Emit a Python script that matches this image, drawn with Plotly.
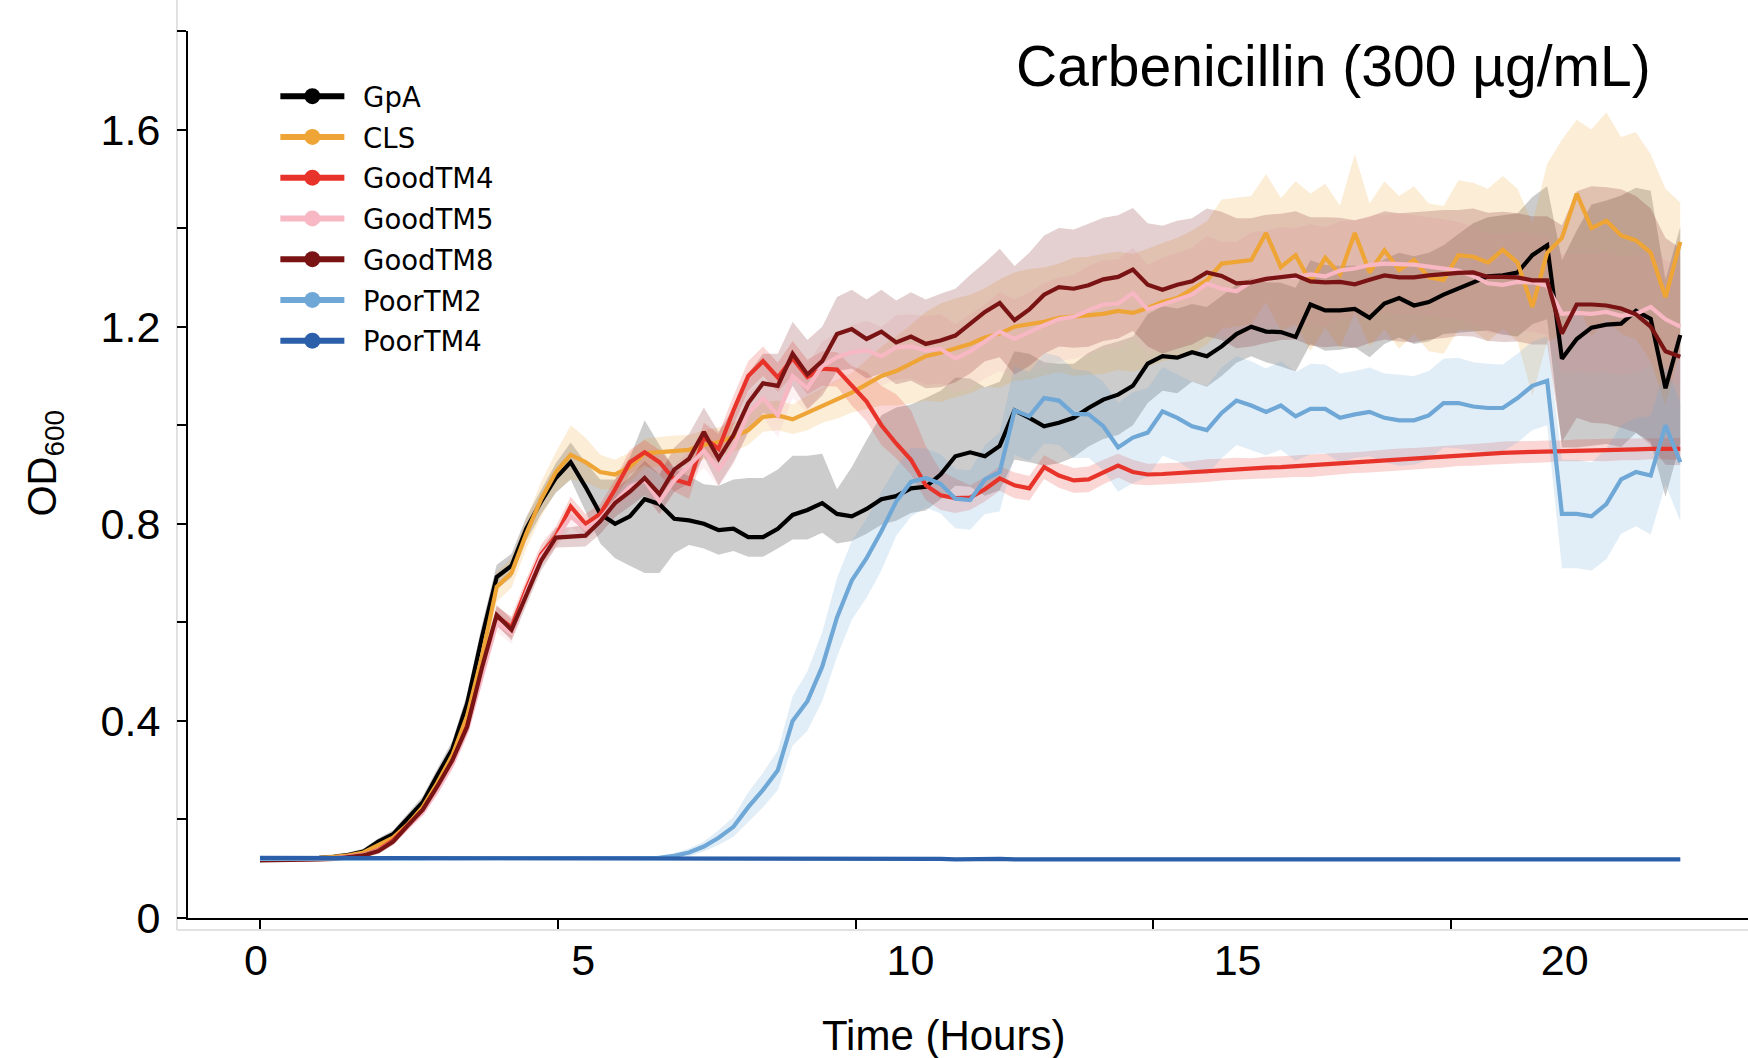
import numpy as np
import plotly.graph_objects as go

# sampling times (hours)
TIME = np.linspace(0, 23.85, 97)

SERIES = ["GpA", "CLS", "GoodTM4", "GoodTM5", "GoodTM8", "PoorTM2", "PoorTM4"]
COLORS = ["#000000", "#EFA535", "#E8332A", "#F7B7C3", "#7A1414", "#6FA8D6", "#2B5FA9"]

XTICKS = [0, 5, 10, 15, 20]
XTICK_LABELS = ["0", "5", "10", "15", "20"]
YTICKS = [0, 0.2, 0.4, 0.6, 0.8, 1.0, 1.2, 1.4, 1.6, 1.8]
YTICK_LABELS = ["0", "", "0.4", "", "0.8", "", "1.2", "", "1.6", ""]

# ---- mean OD600 ----
GPA = [0.120, 0.120, 0.121, 0.121, 0.122, 0.124, 0.128, 0.135, 0.155, 0.170,
       0.203, 0.235, 0.290, 0.343, 0.435, 0.570, 0.692, 0.715, 0.790, 0.845,
       0.893, 0.925, 0.875, 0.820, 0.800, 0.815, 0.850, 0.840, 0.810, 0.807,
       0.800, 0.787, 0.790, 0.773, 0.773, 0.790, 0.818, 0.828, 0.842, 0.820,
       0.815, 0.830, 0.850, 0.856, 0.872, 0.875, 0.900, 0.937, 0.945, 0.937,
       0.958, 1.030, 1.015, 0.998, 1.005, 1.015, 1.035, 1.052, 1.062, 1.080,
       1.125, 1.140, 1.137, 1.148, 1.140, 1.160, 1.185, 1.200, 1.190, 1.189,
       1.179, 1.245, 1.233, 1.233, 1.236, 1.218, 1.247, 1.258, 1.243, 1.250,
       1.265, 1.278, 1.290, 1.302, 1.304, 1.310, 1.345, 1.365, 1.135, 1.175,
       1.198, 1.204, 1.206, 1.232, 1.216, 1.075, 1.183]
CLS = [0.120, 0.120, 0.121, 0.121, 0.122, 0.124, 0.127, 0.133, 0.148, 0.163,
       0.190, 0.225, 0.275, 0.330, 0.410, 0.530, 0.672, 0.700, 0.780, 0.850,
       0.905, 0.940, 0.925, 0.905, 0.900, 0.915, 0.943, 0.946, 0.949, 0.950,
       0.960, 0.966, 0.976, 0.990, 1.017, 1.020, 1.012, 1.025, 1.040, 1.053,
       1.066, 1.083, 1.100, 1.110, 1.124, 1.140, 1.147, 1.157, 1.165, 1.178,
       1.186, 1.200, 1.205, 1.210, 1.218, 1.220, 1.222, 1.226, 1.232, 1.228,
       1.238, 1.250, 1.258, 1.275, 1.294, 1.328, 1.331, 1.335, 1.390, 1.321,
       1.345, 1.290, 1.340, 1.306, 1.390, 1.310, 1.355, 1.315, 1.335, 1.300,
       1.295, 1.345, 1.342, 1.330, 1.356, 1.330, 1.240, 1.350, 1.380, 1.470,
       1.400, 1.415, 1.385, 1.375, 1.350, 1.260, 1.372]
GOODTM4 = [0.118, 0.118, 0.119, 0.119, 0.120, 0.121, 0.124, 0.128, 0.138, 0.158,
           0.188, 0.218, 0.265, 0.318, 0.390, 0.505, 0.612, 0.590, 0.668, 0.738,
           0.775, 0.835, 0.800, 0.820, 0.870, 0.925, 0.945, 0.925, 0.890, 0.881,
           0.975, 0.952, 1.030, 1.100, 1.130, 1.097, 1.136, 1.098, 1.115, 1.113,
           1.080, 1.048, 1.000, 0.963, 0.930, 0.878, 0.858, 0.852, 0.853, 0.870,
           0.892, 0.878, 0.872, 0.915, 0.898, 0.888, 0.890, 0.905, 0.918, 0.905,
           0.900, 0.901, 0.903, 0.905, 0.908, 0.910, 0.912, 0.912, 0.914, 0.915,
           0.917, 0.918, 0.920, 0.922, 0.924, 0.926, 0.928, 0.930, 0.932, 0.934,
           0.936, 0.938, 0.940, 0.942, 0.944, 0.945, 0.946, 0.947, 0.948, 0.949,
           0.950, 0.950, 0.951, 0.951, 0.952, 0.952, 0.952]
GOODTM5 = [0.118, 0.118, 0.119, 0.119, 0.120, 0.121, 0.124, 0.128, 0.137, 0.155,
           0.185, 0.215, 0.260, 0.312, 0.382, 0.495, 0.600, 0.578, 0.660, 0.733,
           0.770, 0.815, 0.790, 0.810, 0.845, 0.875, 0.888, 0.845, 0.888, 0.918,
           0.948, 0.910, 0.955, 1.025, 1.055, 1.020, 1.100, 1.075, 1.120, 1.138,
           1.148, 1.152, 1.140, 1.158, 1.160, 1.152, 1.155, 1.135, 1.150, 1.170,
           1.190, 1.175, 1.190, 1.203, 1.215, 1.220, 1.233, 1.245, 1.247, 1.268,
           1.235, 1.245, 1.255, 1.265, 1.287, 1.277, 1.272, 1.291, 1.297, 1.302,
           1.300, 1.306, 1.302, 1.314, 1.318, 1.325, 1.328, 1.328, 1.326, 1.322,
           1.318, 1.314, 1.303, 1.288, 1.285, 1.291, 1.290, 1.283, 1.226, 1.228,
           1.226, 1.230, 1.222, 1.226, 1.240, 1.215, 1.200]
GOODTM8 = [0.117, 0.117, 0.118, 0.118, 0.119, 0.120, 0.123, 0.127, 0.136, 0.155,
           0.188, 0.220, 0.268, 0.320, 0.388, 0.508, 0.615, 0.585, 0.655, 0.725,
           0.772, 0.773, 0.776, 0.805, 0.842, 0.865, 0.893, 0.860, 0.910, 0.932,
           0.986, 0.932, 0.980, 1.045, 1.085, 1.080, 1.145, 1.103, 1.130, 1.185,
           1.195, 1.175, 1.190, 1.168, 1.180, 1.165, 1.172, 1.182, 1.205, 1.230,
           1.248, 1.213, 1.235, 1.265, 1.280, 1.277, 1.284, 1.296, 1.301, 1.316,
           1.285, 1.275, 1.285, 1.292, 1.310, 1.303, 1.288, 1.290, 1.297, 1.301,
           1.304, 1.292, 1.290, 1.291, 1.286, 1.295, 1.304, 1.300, 1.300, 1.304,
           1.307, 1.309, 1.310, 1.301, 1.301, 1.300, 1.294, 1.294, 1.186, 1.245,
           1.245, 1.243, 1.237, 1.225, 1.200, 1.150, 1.139]
POORTM2 = [0.120, 0.120, 0.121, 0.121, 0.121, 0.121, 0.121, 0.121, 0.121, 0.120,
           0.120, 0.120, 0.120, 0.120, 0.120, 0.120, 0.120, 0.120, 0.120, 0.120,
           0.120, 0.120, 0.120, 0.120, 0.120, 0.120, 0.121, 0.122, 0.126, 0.133,
           0.145, 0.163, 0.185, 0.225, 0.260, 0.300, 0.400, 0.440, 0.510, 0.610,
           0.685, 0.730, 0.785, 0.845, 0.885, 0.893, 0.881, 0.851, 0.848, 0.890,
           0.905, 1.030, 1.018, 1.055, 1.050, 1.023, 1.022, 0.998, 0.955, 0.975,
           0.985, 1.028, 1.015, 0.998, 0.990, 1.025, 1.050, 1.040, 1.027, 1.040,
           1.018, 1.033, 1.033, 1.015, 1.022, 1.027, 1.015, 1.010, 1.010, 1.020,
           1.045, 1.045, 1.038, 1.035, 1.035, 1.055, 1.080, 1.090, 0.820, 0.820,
           0.815, 0.840, 0.890, 0.905, 0.898, 1.000, 0.925]
POORTM4 = [0.122, 0.122, 0.122, 0.121, 0.122, 0.121, 0.121, 0.121, 0.121, 0.121,
           0.121, 0.120, 0.121, 0.120, 0.120, 0.120, 0.121, 0.120, 0.120, 0.120,
           0.120, 0.120, 0.120, 0.120, 0.120, 0.120, 0.120, 0.120, 0.120, 0.120,
           0.120, 0.120, 0.120, 0.120, 0.120, 0.120, 0.120, 0.120, 0.120, 0.120,
           0.120, 0.120, 0.120, 0.120, 0.120, 0.120, 0.120, 0.119, 0.120, 0.120,
           0.120, 0.119, 0.119, 0.120, 0.120, 0.119, 0.119, 0.119, 0.119, 0.119,
           0.119, 0.119, 0.119, 0.119, 0.119, 0.119, 0.119, 0.119, 0.119, 0.119,
           0.119, 0.119, 0.119, 0.119, 0.119, 0.119, 0.119, 0.119, 0.119, 0.119,
           0.119, 0.119, 0.119, 0.119, 0.119, 0.119, 0.119, 0.119, 0.119, 0.119,
           0.119, 0.119, 0.119, 0.119, 0.119, 0.119, 0.119]

# ---- spread below / above the mean ----
GPA_DN = [.004, .004, .004, .004, .004, .005, .005, .006, .007, .008,
          .010, .012, .014, .016, .018, .022, .025, .024, .024, .025,
          .030, .035, .050, .060, .070, .100, .150, .140, .070, .050,
          .050, .050, .045, .040, .040, .040, .050, .060, .060, .060,
          .050, .050, .052, .050, .050, .048, .050, .060, .070, .080,
          .090, .100, .090, .080, .082, .080, .078, .080, .082, .080,
          .080, .070, .072, .060, .062, .060, .058, .060, .062, .070,
          .070, .080, .082, .080, .078, .080, .082, .080, .078, .080,
          .080, .090, .100, .110, .120, .130, .140, .150, .180, .220,
          .240, .242, .250, .248, .250, .220, .220]
GPA_UP = [.004, .004, .004, .004, .004, .005, .005, .006, .007, .008,
          .010, .012, .014, .016, .020, .025, .025, .024, .024, .025,
          .030, .040, .050, .070, .090, .120, .160, .120, .100, .090,
          .080, .090, .100, .120, .120, .120, .120, .110, .100, .050,
          .100, .140, .170, .180, .170, .180, .170, .160, .150, .140,
          .130, .120, .130, .130, .120, .110, .112, .110, .108, .100,
          .100, .102, .100, .098, .100, .102, .100, .098, .100, .100,
          .100, .090, .092, .090, .088, .100, .090, .092, .100, .100,
          .100, .110, .120, .120, .122, .120, .118, .120, .200, .220,
          .250, .252, .260, .250, .260, .220, .220]
CLS_DN = [.004, .004, .004, .004, .004, .005, .005, .006, .007, .008,
          .010, .012, .014, .017, .020, .025, .030, .030, .030, .035,
          .040, .050, .040, .035, .030, .030, .030, .030, .030, .030,
          .030, .030, .030, .030, .030, .030, .030, .035, .035, .040,
          .040, .050, .060, .070, .080, .090, .100, .100, .100, .100,
          .110, .110, .112, .110, .110, .120, .120, .122, .120, .120,
          .120, .120, .122, .130, .130, .132, .130, .130, .140, .130,
          .140, .140, .142, .150, .160, .150, .160, .160, .150, .150,
          .150, .152, .150, .160, .160, .160, .180, .180, .200, .220,
          .220, .200, .200, .200, .220, .220, .220]
CLS_UP = [.004, .004, .004, .004, .004, .005, .005, .006, .007, .008,
          .010, .012, .014, .017, .020, .025, .030, .030, .030, .035,
          .040, .060, .050, .035, .030, .030, .030, .030, .030, .030,
          .030, .030, .030, .030, .030, .030, .030, .035, .035, .040,
          .040, .050, .060, .070, .080, .090, .100, .100, .100, .100,
          .110, .110, .112, .110, .110, .120, .120, .122, .120, .120,
          .120, .120, .122, .120, .120, .130, .130, .130, .120, .140,
          .150, .180, .150, .140, .160, .140, .140, .150, .150, .150,
          .150, .152, .150, .150, .150, .150, .170, .180, .200, .150,
          .200, .220, .200, .220, .200, .220, .080]
GOODTM4_DN = [.003, .003, .003, .003, .003, .004, .004, .005, .006, .007,
              .008, .009, .010, .012, .014, .016, .020, .022, .020, .020,
              .020, .020, .020, .020, .020, .025, .025, .025, .025, .030,
              .030, .030, .030, .030, .030, .030, .035, .035, .035, .035,
              .040, .040, .040, .030, .030, .030, .030, .030, .025, .025,
              .025, .026, .025, .024, .025, .025, .026, .025, .024, .025,
              .022, .022, .021, .022, .023, .022, .022, .021, .022, .022,
              .022, .023, .022, .022, .021, .022, .022, .023, .022, .022,
              .022, .021, .022, .022, .023, .022, .022, .022, .021, .022,
              .022, .023, .022, .022, .021, .022, .022]
GOODTM4_UP = [.003, .003, .003, .003, .003, .004, .004, .005, .006, .007,
              .008, .009, .010, .012, .014, .016, .020, .022, .020, .020,
              .020, .020, .020, .020, .020, .025, .025, .025, .025, .030,
              .030, .030, .030, .030, .030, .030, .035, .035, .035, .035,
              .040, .060, .080, .100, .100, .080, .050, .040, .025, .025,
              .025, .026, .025, .024, .025, .025, .026, .025, .024, .025,
              .022, .022, .021, .022, .023, .022, .022, .021, .022, .022,
              .022, .023, .022, .022, .021, .022, .022, .023, .022, .022,
              .022, .021, .022, .022, .023, .022, .022, .022, .021, .022,
              .022, .023, .022, .022, .021, .022, .022]
GOODTM5_SD = [.003, .003, .003, .003, .003, .004, .004, .005, .006, .007,
              .008, .009, .010, .012, .014, .016, .020, .022, .020, .020,
              .020, .022, .022, .022, .025, .025, .028, .030, .030, .032,
              .035, .035, .035, .040, .040, .045, .045, .050, .050, .050,
              .055, .060, .060, .065, .065, .070, .070, .070, .075, .075,
              .080, .080, .080, .085, .085, .085, .090, .090, .090, .092,
              .090, .095, .095, .095, .097, .095, .100, .100, .098, .100,
              .100, .102, .100, .100, .098, .100, .100, .102, .100, .100,
              .100, .098, .100, .100, .102, .100, .100, .100, .120, .120,
              .120, .122, .120, .120, .118, .120, .120]
GOODTM8_SD = [.003, .003, .003, .003, .003, .004, .004, .005, .006, .007,
              .008, .009, .010, .012, .014, .016, .020, .022, .020, .020,
              .020, .020, .022, .025, .028, .030, .035, .040, .045, .050,
              .050, .055, .055, .060, .060, .065, .065, .070, .070, .075,
              .080, .080, .085, .085, .090, .090, .095, .095, .100, .100,
              .110, .110, .115, .120, .120, .120, .125, .125, .125, .125,
              .125, .130, .130, .128, .130, .130, .132, .130, .130, .128,
              .130, .130, .132, .130, .130, .128, .130, .130, .132, .130,
              .130, .128, .130, .130, .132, .130, .130, .130, .220, .230,
              .240, .240, .242, .240, .240, .230, .220]
POORTM2_SD = [.003, .003, .003, .003, .003, .003, .003, .003, .003, .003,
              .003, .003, .003, .003, .003, .003, .003, .003, .003, .003,
              .003, .003, .003, .003, .003, .003, .004, .005, .006, .008,
              .010, .015, .020, .030, .035, .040, .050, .060, .070, .080,
              .080, .080, .080, .070, .070, .060, .060, .060, .060, .070,
              .080, .090, .090, .092, .090, .090, .088, .090, .090, .092,
              .090, .090, .088, .090, .090, .092, .090, .090, .088, .090,
              .090, .092, .090, .090, .088, .090, .090, .092, .090, .090,
              .090, .092, .090, .090, .088, .090, .090, .090, .110, .110,
              .110, .112, .110, .110, .120, .120, .120]
POORTM4_SD = [.003, .003, .003, .003, .003, .003, .003, .003, .003, .003,
              .003, .003, .003, .003, .003, .003, .003, .003, .003, .003,
              .003, .003, .003, .003, .003, .003, .003, .003, .003, .003,
              .003, .003, .003, .003, .003, .003, .003, .003, .003, .003,
              .003, .003, .003, .003, .003, .003, .003, .003, .003, .003,
              .003, .003, .003, .003, .003, .003, .003, .003, .003, .003,
              .003, .003, .003, .003, .003, .003, .003, .003, .003, .003,
              .003, .003, .003, .003, .003, .003, .003, .003, .003, .003,
              .003, .003, .003, .003, .003, .003, .003, .003, .003, .003,
              .003, .003, .003, .003, .003, .003, .003]

MEANS = [GPA, CLS, GOODTM4, GOODTM5, GOODTM8, POORTM2, POORTM4]
DOWNS = [GPA_DN, CLS_DN, GOODTM4_DN, GOODTM5_SD, GOODTM8_SD, POORTM2_SD, POORTM4_SD]
UPS = [GPA_UP, CLS_UP, GOODTM4_UP, GOODTM5_SD, GOODTM8_SD, POORTM2_SD, POORTM4_SD]


def rgba(hexcol, a):
    h = hexcol.lstrip("#")
    r, g, b = int(h[0:2], 16), int(h[2:4], 16), int(h[4:6], 16)
    return f"rgba({r},{g},{b},{a})"


fig = go.Figure()
t = np.asarray(TIME)

# shaded bands first (below all lines)
for name, col, m, dn, up in zip(SERIES, COLORS, MEANS, DOWNS, UPS):
    m = np.asarray(m)
    hi = m + np.asarray(up)
    lo = m - np.asarray(dn)
    fig.add_trace(go.Scatter(
        x=np.concatenate([t, t[::-1]]), y=np.concatenate([hi, lo[::-1]]),
        mode="lines", fill="toself", fillcolor=rgba(col, 0.2),
        line=dict(width=0, color=rgba(col, 0)), hoverinfo="skip", showlegend=False))

# mean lines
for name, col, m in zip(SERIES, COLORS, MEANS):
    fig.add_trace(go.Scatter(x=t, y=m, mode="lines", name=name,
                             line=dict(color=col, width=4.2), showlegend=False))

# legend entries (line + dot)
for name, col in zip(SERIES, COLORS):
    fig.add_trace(go.Scatter(x=[None], y=[None], mode="lines+markers",
                             name="\u2002" + name, legendgroup=name,
                             line=dict(color=col, width=6),
                             marker=dict(color=col, size=20)))

# helper trace on the label axis
fig.add_trace(go.Scatter(x=[None], y=[None], xaxis="x2", yaxis="y",
                         mode="markers", showlegend=False, hoverinfo="skip"))

TICKFONT = dict(family="Liberation Sans, Arial, sans-serif", size=43, color="black")

fig.update_layout(
    width=1748, height=1058,
    margin=dict(l=188, r=0, t=31, b=140),
    paper_bgcolor="white", plot_bgcolor="white",
    showlegend=True,
    legend=dict(x=0.056, y=0.954, xanchor="left", yanchor="top",
                bgcolor="rgba(255,255,255,0)", itemwidth=64,
                font=dict(family="DejaVu Sans", size=27.5, color="black"),
                tracegroupgap=2),
    xaxis=dict(range=[-1.209, 24.987], showgrid=False, zeroline=False,
               showline=True, linecolor="black", linewidth=2,
               ticks="outside", ticklen=9, tickwidth=1.5, tickcolor="black",
               tickvals=XTICKS, showticklabels=False),
    xaxis2=dict(overlaying="x", anchor="y", side="bottom",
                range=[-1.04, 22.80], showgrid=False, zeroline=False,
                showline=False, ticks="", tickvals=XTICKS, ticktext=XTICK_LABELS,
                tickfont=TICKFONT, ticklabelstandoff=13),
    yaxis=dict(range=[0, 1.8], showgrid=False, zeroline=False,
               showline=True, linecolor="black", linewidth=2,
               ticks="outside", ticklen=9, tickwidth=1.5, tickcolor="black",
               tickvals=YTICKS, ticktext=YTICK_LABELS, tickfont=TICKFONT,
               ticklabelstandoff=8),
    shapes=[
        dict(type="line", xref="paper", yref="paper", x0=-0.0071, x1=-0.0071,
             y0=-0.0135, y1=1.04, line=dict(color="#d9d9d9", width=1.5), layer="below"),
        dict(type="line", xref="paper", yref="paper", x0=-0.0071, x1=1.0,
             y0=-0.0135, y1=-0.0135, line=dict(color="#d9d9d9", width=1.5), layer="below"),
    ],
    annotations=[
        dict(text="Carbenicillin (300 µg/mL)", xref="paper", yref="paper",
             x=0.734, y=0.961, xanchor="center", yanchor="middle", showarrow=False,
             font=dict(family="Liberation Sans, Arial, sans-serif", size=57, color="black")),
        dict(text="OD<sub>600</sub>", xref="paper", yref="paper", textangle=-90,
             x=-0.0919, y=0.513, xanchor="center", yanchor="middle", showarrow=False,
             font=dict(family="Liberation Sans, Arial, sans-serif", size=40, color="black")),
        dict(text="Time (Hours)", xref="paper", yref="paper",
             x=0.4846, y=-0.133, xanchor="center", yanchor="middle", showarrow=False,
             font=dict(family="Liberation Sans, Arial, sans-serif", size=42, color="black")),
    ],
)

fig.write_html("out.html", config={"displayModeBar": False},
               post_script="document.body.style.margin='0px';")
